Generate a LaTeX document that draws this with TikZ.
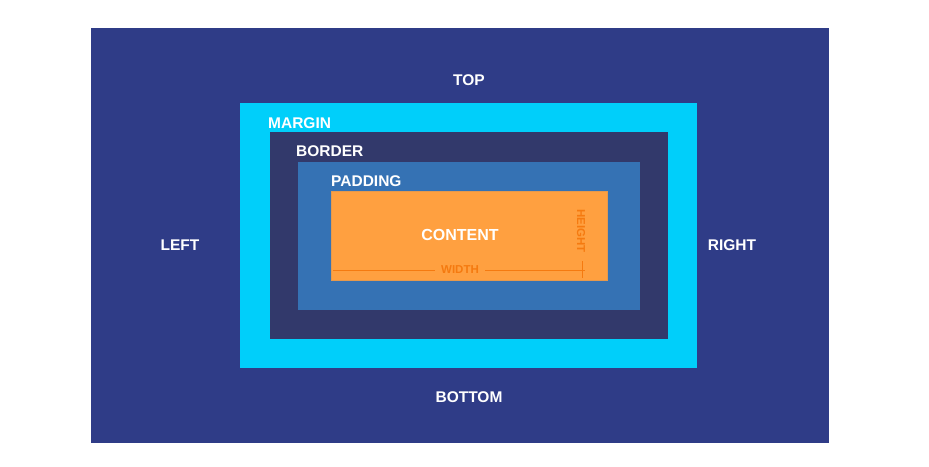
\documentclass[tikz,border=0pt]{standalone}
\usepackage{fontspec}
\setmainfont{Liberation Sans}
\definecolor{outerc}{HTML}{2F3C87}
\definecolor{marginc}{HTML}{00CFFA}
\definecolor{borderc}{HTML}{32396B}
\definecolor{paddingc}{HTML}{3572B4}
\definecolor{contentc}{HTML}{FFA040}
\definecolor{dimc}{HTML}{F57A10}
\begin{document}
\begin{tikzpicture}[x=1pt,y=-1pt,
  lbl/.style={text=white,font=\bfseries\fontsize{15.5}{15.5}\selectfont,inner sep=0pt},
  dimlbl/.style={text=dimc,font=\bfseries\fontsize{11.5}{11.5}\selectfont,inner sep=0pt},
  dimline/.style={draw=dimc,line width=1pt}]
\useasboundingbox (0,0) rectangle (929,466);
\fill[white] (0,0) rectangle (929,466);
\fill[outerc] (91,28) rectangle (829,443);
\fill[marginc] (240,103) rectangle (697,368);
\fill[borderc] (270,132) rectangle (668,339);
\fill[paddingc] (298,162) rectangle (640,310);
\filldraw[fill=contentc,draw=contentc!80!gray,line width=0.5pt] (331,191) rectangle (607,280);
\node[lbl] (top) at (469,80) {TOP};
\node[lbl] (left) at (180,245) {LEFT};
\node[lbl] (right) at (732,245) {RIGHT};
\node[lbl] (bottom) at (469,397) {BOTTOM};
\node[lbl,anchor=west] (margin) at (268,123) {MARGIN};
\node[lbl,anchor=west] (border) at (296,151) {BORDER};
\node[lbl,anchor=west] (padding) at (331,181) {PADDING};
\node[lbl,font=\bfseries\fontsize{16}{16}\selectfont] (content) at (460,235) {CONTENT};
\node[dimlbl] (width) at (460,270) {WIDTH};
\node[dimlbl,rotate=-90] (height) at (581,231) {HEIGHT};
\coordinate (wl) at (333,270);
\coordinate (wr) at (585,270);
\coordinate (tt) at (582,261);
\coordinate (tb) at (582,278);
\draw[dimline] (wl) -- (435,270);
\draw[dimline] (485,270) -- (wr);
\draw[dimline] (tt) -- (tb);
\end{tikzpicture}
\end{document}
